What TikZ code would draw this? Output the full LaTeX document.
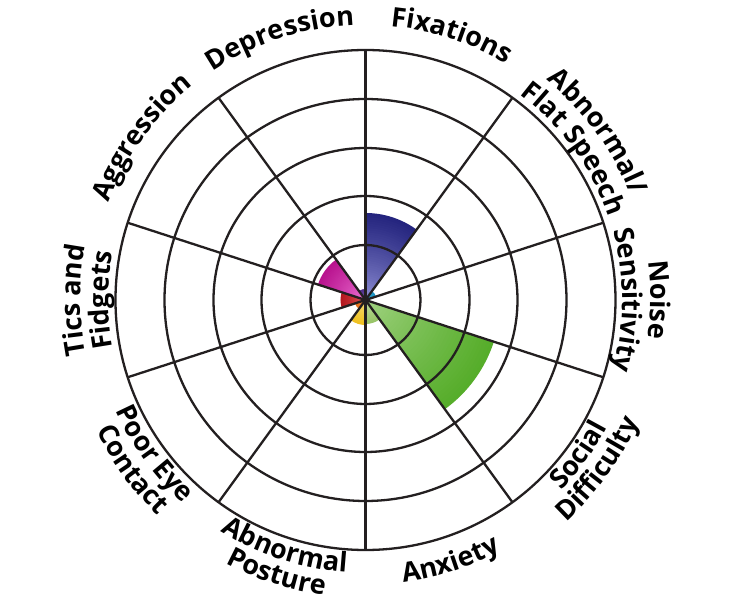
\documentclass[tikz,border=0pt]{standalone}
\usepackage{fontspec}
\setmainfont{Open Sans}
\usetikzlibrary{decorations.text}
\definecolor{gridline}{HTML}{231F20}
\definecolor{blueIn}{HTML}{9A9ADE}\definecolor{blueOut}{HTML}{24247E}
\definecolor{greenIn}{HTML}{A8D68A}\definecolor{greenOut}{HTML}{56AD2A}
\definecolor{magIn}{HTML}{F27CDA}\definecolor{magOut}{HTML}{B8128E}
\definecolor{redIn}{HTML}{E46060}\definecolor{redOut}{HTML}{B3161D}
\definecolor{yelIn}{HTML}{F8E68A}\definecolor{yelOut}{HTML}{EFC020}
\definecolor{lgIn}{HTML}{CCE3AC}\definecolor{lgOut}{HTML}{98C468}
\definecolor{orIn}{HTML}{F29A50}\definecolor{orOut}{HTML}{E46E1A}
\definecolor{puIn}{HTML}{8A6AC0}\definecolor{puOut}{HTML}{4E2C8A}
\definecolor{teIn}{HTML}{50C0E0}\definecolor{teOut}{HTML}{1890C0}
\newcommand\labelfont{\fontsize{27}{32}\selectfont\bfseries}
% sector: start angle, end angle, radius, inner colour, outer colour
\newcommand\pieSector[5]{%
  \foreach \i in {40,39,...,1}{%
    \pgfmathsetmacro\pp{100*(\i/40)^0.75}%
    \pgfmathsetmacro\rr{#3*\i/40}%
    \fill[#5!\pp!#4] (0,0) -- (#1:\rr pt) arc[start angle=#1,end angle=#2,radius=\rr pt] -- cycle;
  }}
\newcommand\cwLabel[3]{%
  \path[decorate,decoration={text along path,text align=center,text={|\labelfont|#3}}]
    (#1+60:#2pt) arc[start angle=#1+60,end angle=#1-60,radius=#2pt];}
\newcommand\ccwLabel[3]{%
  \path[decorate,decoration={text along path,text align=center,text={|\labelfont|#3}}]
    (#1-60:#2pt) arc[start angle=#1-60,end angle=#1+60,radius=#2pt];}
\tikzset{gridstroke/.style={draw=gridline,line width=2.3pt}}
\begin{document}
\begin{tikzpicture}
\useasboundingbox[fill=white] (-365.5pt,-300pt) rectangle (366.5pt,300pt);
\coordinate (O) at (0,0);
% data sectors
\pieSector{54}{90}{87}{blueIn}{blueOut}
\pieSector{-54}{-18}{135}{greenIn}{greenOut}
\pieSector{126}{162}{50}{magIn}{magOut}
\pieSector{162}{198}{25}{redIn}{redOut}
\pieSector{-126}{-90}{25}{yelIn}{yelOut}
\pieSector{-90}{-54}{24}{lgIn}{lgOut}
\pieSector{-162}{-126}{11}{orIn}{orOut}
\pieSector{90}{126}{11}{puIn}{puOut}
\pieSector{18}{54}{11}{teIn}{teOut}
% grid
\foreach \r in {55,104,152,201,250}
  \draw[gridstroke] (O) circle[radius=\r pt];
\foreach \k in {0,...,9}
  \draw[gridstroke] (O) -- ({90-36*\k}:250pt);
% labels (upper half: clockwise, tops outward)
\cwLabel{72}{275}{Fixations}
\cwLabel{108}{275}{Depression}
\cwLabel{144}{275}{Aggression}
\cwLabel{36}{285}{Abnormal/}
\cwLabel{36}{257}{Flat Speech}
\cwLabel{0}{285}{Noise}
\cwLabel{0}{257}{Sensitivity}
\cwLabel{180}{285}{Tics and}
\cwLabel{180}{257}{Fidgets}
% labels (lower half: counter-clockwise, tops inward)
\ccwLabel{-72}{285}{Anxiety}
\ccwLabel{-36}{273}{Social}
\ccwLabel{-36}{299}{Difficulty}
\ccwLabel{-108}{273}{Abnormal}
\ccwLabel{-108}{298}{Posture}
\ccwLabel{-144}{273}{Poor Eye}
\ccwLabel{-144}{299}{Contact}
\end{tikzpicture}
\end{document}
